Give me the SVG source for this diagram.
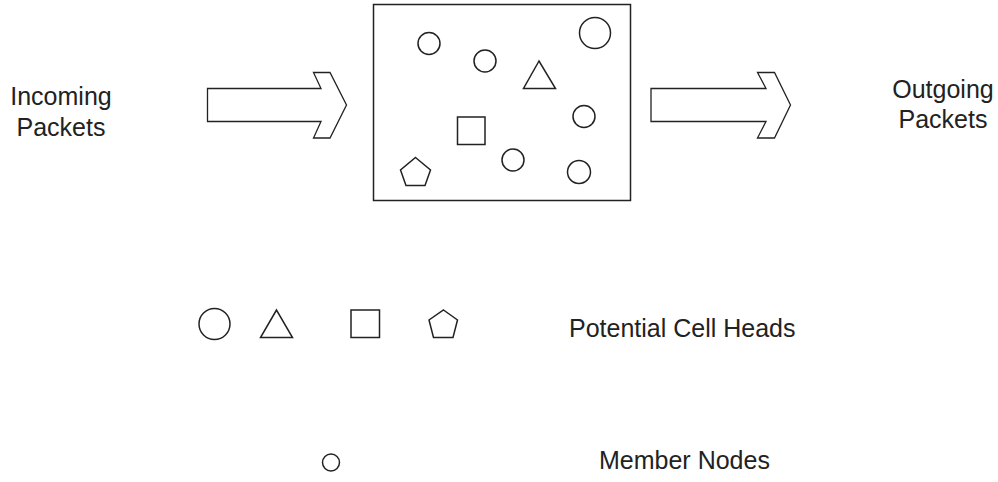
<svg xmlns="http://www.w3.org/2000/svg" width="998" height="482" viewBox="0 0 998 482">
<style>
.s{fill:none;stroke:#222;stroke-width:1.5}
.a{fill:#fff;stroke:#222;stroke-width:1.3;stroke-linejoin:miter}
.t{font-family:"Liberation Sans",Arial,sans-serif;font-size:25px;fill:#222}
</style>
<rect width="998" height="482" fill="#fff"/>
<g id="incoming-label">
<text class="t" x="61" y="105" text-anchor="middle">Incoming</text>
<text class="t" x="61" y="136" text-anchor="middle">Packets</text>
</g>
<g id="outgoing-label">
<text class="t" x="943" y="98" text-anchor="middle">Outgoing</text>
<text class="t" x="943" y="128" text-anchor="middle">Packets</text>
</g>
<g id="connectors">
<polygon id="arrow-in" class="a" points="207.5,88.5 321,88.5 313.5,72.5 330,72.5 346.5,105 330,138 313.5,138 321,121.5 207.5,121.5"/>
<polygon id="arrow-out" class="a" points="651,88.5 766,88.5 757.5,72.5 774.5,72.5 790.5,105 774.5,138 757.5,138 766,121.5 651,121.5"/>
</g>
<g id="cell">
<rect class="s" x="373.5" y="4.5" width="257" height="196"/>
<circle class="s" cx="429" cy="43.5" r="11"/>
<circle class="s" cx="485" cy="61" r="11"/>
<circle class="s" cx="595" cy="33" r="15.5"/>
<polygon class="s" points="539,61 523.5,88.5 555.5,88.5"/>
<circle class="s" cx="584" cy="116.5" r="11"/>
<rect class="s" x="457.5" y="117" width="27.5" height="27.5"/>
<circle class="s" cx="513" cy="160" r="11"/>
<circle class="s" cx="579" cy="172" r="11.5"/>
<polygon class="s" points="415.5,157.5 430.5,170 425,185.5 406,185.5 400.5,170"/>
</g>
<g id="legend-heads">
<circle class="s" cx="214.5" cy="324" r="15.5"/>
<polygon class="s" points="276.5,310 260.5,337.5 292.5,337.5"/>
<rect class="s" x="351" y="310" width="28.5" height="27.5"/>
<polygon class="s" points="443.5,310 457.5,320 453,337.5 433.5,337.5 429,320"/>
<text class="t" x="569" y="337">Potential Cell Heads</text>
</g>
<g id="legend-members">
<circle class="s" cx="331" cy="462.5" r="8.5"/>
<text class="t" x="599" y="469">Member Nodes</text>
</g>
</svg>
